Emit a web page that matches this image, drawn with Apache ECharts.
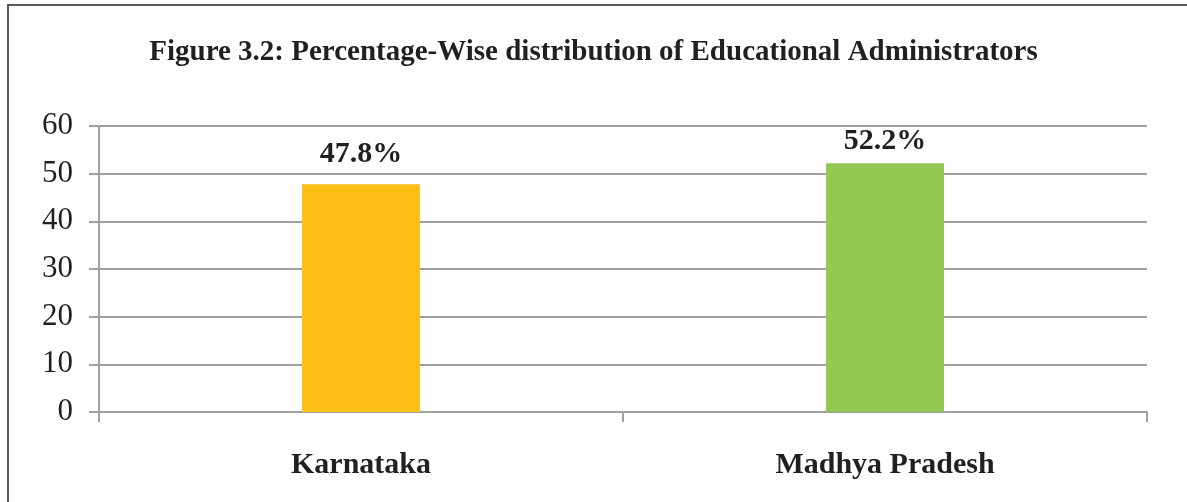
<!DOCTYPE html>
<html>
<head>
<meta charset="utf-8">
<script src="https://cdn.jsdelivr.net/npm/echarts@6/dist/echarts.min.js"></script>
<style>
  html, body { margin: 0; padding: 0; background: #fff; }
  #chart { width: 1187px; height: 502px; }
</style>
</head>
<body>
<div id="chart"></div>
<script>
// Share of educational administrators by state (percent)
const titleText = 'Figure 3.2: Percentage-Wise distribution of Educational Administrators';
const states = ['Karnataka', 'Madhya Pradesh'];
const shares = [47.8, 52.2];
const barColors = ['#FBBF16', '#92C853'];
const yTicks = [0, 10, 20, 30, 40, 50, 60];

const serif = '"Liberation Serif", "Times New Roman", serif';
const gridColor = '#A0A0A0';
const labelGap = [15, 7];

const chart = echarts.init(document.getElementById('chart'));
chart.setOption({
  animation: false,
  backgroundColor: '#fff',
  title: {
    text: titleText,
    left: 'center',
    top: 33,
    textStyle: { fontFamily: serif, fontSize: 29, fontWeight: 'bold', color: '#231F20' }
  },
  graphic: [{
    type: 'rect',
    shape: { x: 8, y: 5, width: 1200, height: 520 },
    style: { fill: 'none', stroke: '#5A5A5A', lineWidth: 2 },
    silent: true
  }],
  grid: { left: 99, right: 40, top: 126, bottom: 90, containLabel: false },
  xAxis: {
    type: 'category',
    data: states,
    axisLine: { lineStyle: { color: gridColor, width: 2 } },
    axisTick: { show: true, length: 10, lineStyle: { color: gridColor, width: 2 } },
    axisLabel: {
      margin: 38,
      fontFamily: serif, fontSize: 30, fontWeight: 'bold', color: '#231F20'
    }
  },
  yAxis: {
    type: 'value',
    min: yTicks[0],
    max: yTicks[yTicks.length - 1],
    interval: 10,
    axisLine: { show: true, lineStyle: { color: gridColor, width: 2 } },
    axisTick: { show: true, length: 10, lineStyle: { color: gridColor, width: 2 } },
    splitLine: { show: true, lineStyle: { color: gridColor, width: 2 } },
    axisLabel: {
      margin: 26,
      fontFamily: serif, fontSize: 31, color: '#231F20'
    }
  },
  series: [{
    type: 'bar',
    barWidth: '22.5%',
    data: shares.map((v, i) => ({
      value: v,
      itemStyle: { color: barColors[i] },
      label: { distance: labelGap[i] }
    })),
    label: {
      show: true,
      position: 'top',
      formatter: p => p.value.toFixed(1) + '%',
      fontFamily: serif, fontSize: 30, fontWeight: 'bold', color: '#231F20'
    }
  }]
});
</script>
</body>
</html>
